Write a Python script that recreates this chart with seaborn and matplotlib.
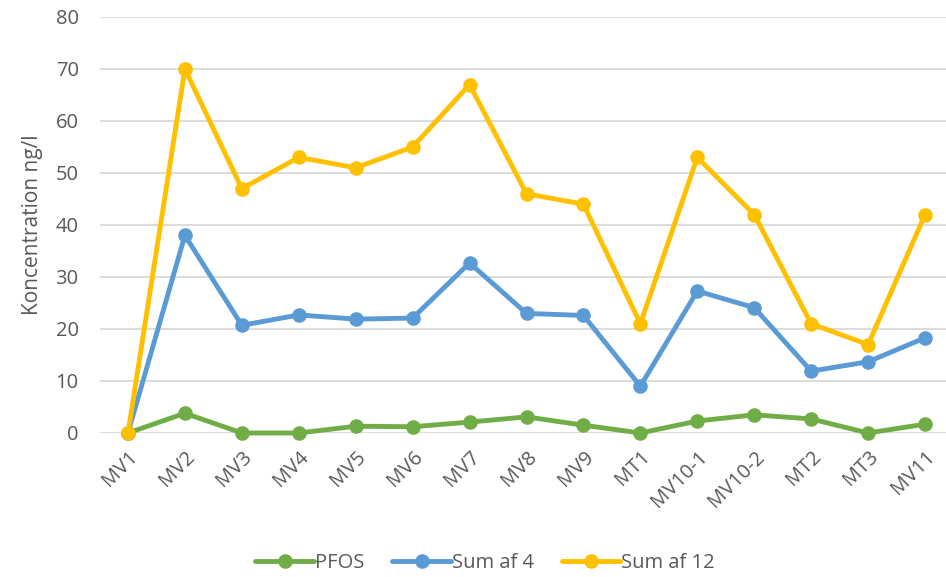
import matplotlib
matplotlib.use("Agg")
import matplotlib.pyplot as plt
import seaborn as sns
import pandas as pd

categories = ["MV1", "MV2", "MV3", "MV4", "MV5", "MV6", "MV7", "MV8", "MV9", "MT1",
              "MV10-1", "MV10-2", "MT2", "MT3", "MV11"]
pfos = [0, 3.8, 0, 0, 1.3, 1.2, 2.1, 3.1, 1.5, 0, 2.3, 3.5, 2.7, 0, 1.7]
sum4 = [0, 38.0, 20.7, 22.7, 21.9, 22.1, 32.7, 23.0, 22.6, 9.0, 27.3, 24.1, 11.9, 13.7, 18.3]
sum12 = [0, 70, 47, 53, 51, 55, 67, 46, 44, 21, 53, 42, 21, 17, 42]
series_names = ["PFOS", "Sum af 4", "Sum af 12"]
colors = ["#70AD47", "#5B9BD5", "#FFC000"]

df = pd.concat([
    pd.DataFrame({"Prøve": categories, "Værdi": vals, "Serie": name})
    for name, vals in zip(series_names, [pfos, sum4, sum12])
], ignore_index=True)

sns.set_theme(style="white")
plt.rcParams["font.family"] = ["Open Sans", "DejaVu Sans"]
text_color = "#595959"

fig = plt.figure(figsize=(9.46, 5.77), dpi=100)
ax = fig.add_axes([99.5 / 946, 1 - 433 / 577, (953.5 - 99.5) / 946, (433 - 17) / 577])

sns.lineplot(data=df, x="Prøve", y="Værdi", hue="Serie", hue_order=series_names,
             palette=colors, marker="o", markersize=10.5, markeredgewidth=0,
             linewidth=3.5, sort=False, ax=ax, legend=True)

ax.set_xlim(-0.5, len(categories) - 0.5)
ax.set_ylim(0, 80)
ax.set_yticks(range(0, 81, 10))
ax.yaxis.grid(True, color="#D9D9D9", linewidth=1.3)
ax.set_axisbelow(True)
for s in ax.spines.values():
    s.set_visible(False)
ax.tick_params(axis="both", length=0, labelsize=14.5, colors=text_color)
ax.tick_params(axis="y", pad=15)
ax.tick_params(axis="x", pad=10)
ax.set_xticks(range(len(categories)))
ax.set_xticklabels(categories, rotation=45, ha="right", rotation_mode="anchor")
ax.set_xlabel("")
ax.set_ylabel("Koncentration ng/l", fontsize=15, color=text_color, labelpad=9)
for line in ax.lines:
    line.set_clip_on(False)

handles, labels = ax.get_legend_handles_labels()
ax.legend(handles, labels, loc="center", bbox_to_anchor=(0.513, 1 - 563 / 577),
          bbox_transform=fig.transFigure, ncol=3, frameon=False, fontsize=14.5,
          labelcolor=text_color, handlelength=2.9, handletextpad=0.05, columnspacing=1.4)

fig.savefig("out.png", dpi=100)
